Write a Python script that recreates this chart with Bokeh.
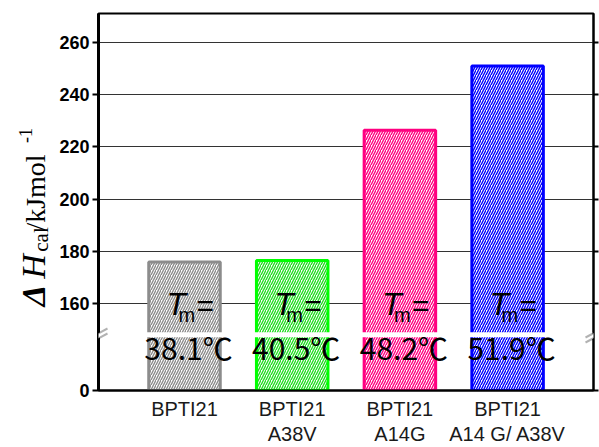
import math
from bokeh.plotting import figure
from bokeh.layouts import row
from bokeh.models import (ColumnDataSource, FixedTicker, CustomJSTickFormatter,
                          LinearAxis, Range1d, PolyAnnotation)
from bokeh.core.properties import value
from bokeh.embed import file_html
from bokeh.resources import INLINE

# ---------------- data ----------------
categories = ["BPTI21", "BPTI21\nA38V", "BPTI21\nA14G", "BPTI21\nA14 G/ A38V"]
dh_cal = [176.0, 176.6, 226.4, 250.9]          # kJ/mol
tm_values = [38.1, 40.5, 48.2, 51.9]           # deg C
y_ticks = [160, 180, 200, 220, 240, 260]
line_colors = ["#8c8c8c", "#00ff00", "#ff0080", "#0000ff"]
hatch_colors = ["#8c8c8c", "#22dd22", "#ff0080", "#0000ff"]

# ---------------- layout (broken axis) ----------------
W, H = 599, 447
TW = 56                   # width of the y-title strip
Y_ZERO = 126.9            # plotted position of value 0 (below the break)
Y_TOP = 271.0
BREAK_LO, BREAK_HI = 147.3, 149.2
X_START, X_END = 0.2015, 4.7976
PX_X, PX_Y = 107.7, 2.616
FL, FR, FT, FB = 98, 593, 13, 390   # frame edges in page pixels


def sx(px):
    return X_START + (px - FL) / PX_X


def sy(py):
    return Y_ZERO + (FB - py) / PX_Y


xs = list(range(1, len(categories) + 1))
src = ColumnDataSource(dict(
    x=xs, dh=dh_cal,
    tm=[f"{t:.1f}\u2103" for t in tm_values],
    lc=line_colors, hc=hatch_colors,
))

p = figure(width=W - TW, height=H, output_backend="svg", toolbar_location=None,
           x_range=Range1d(X_START, X_END), y_range=Range1d(Y_ZERO, Y_TOP),
           min_border_left=FL - TW, min_border_right=W - FR, min_border_top=FT,
           min_border_bottom=H - FB)
p.background_fill_color = "white"
p.border_fill_color = "white"
p.outline_line_color = "black"
p.outline_line_width = 2

# grid
p.xgrid.visible = False
p.ygrid.ticker = FixedTicker(ticks=y_ticks)
p.ygrid.grid_line_color = "#333333"
p.ygrid.grid_line_width = 1

# left axis
ya = p.yaxis[0]
ya.ticker = FixedTicker(ticks=[Y_ZERO] + y_ticks)
ya.formatter = CustomJSTickFormatter(code="return tick < 150 ? '0' : tick.toFixed(0);")
ya.major_tick_in = 0
ya.major_tick_out = 6
ya.minor_tick_in = 0
ya.minor_tick_out = 0
ya.axis_line_width = 3
ya.major_tick_line_width = 2
ya.major_label_standoff = 3
ya.major_label_text_font = "Liberation Sans"
ya.major_label_text_font_style = "bold"
ya.major_label_text_font_size = "18px"
ya.major_label_text_color = "black"

# right axis (ticks only)
ra = LinearAxis(ticker=FixedTicker(ticks=[Y_ZERO] + y_ticks),
                formatter=CustomJSTickFormatter(code="return '';"),
                major_tick_in=0, major_tick_out=5, minor_tick_in=0, minor_tick_out=0,
                axis_line_width=2, major_tick_line_width=2, major_label_standoff=0)
p.add_layout(ra, "right")

# bottom axis with category labels
xa = p.xaxis[0]
xa.ticker = FixedTicker(ticks=xs)
xa.major_label_overrides = {x: c for x, c in zip(xs, categories)}
xa.axis_line_width = 2
xa.major_tick_out = 0
xa.major_tick_in = 0
xa.minor_tick_out = 0
xa.minor_tick_in = 0
xa.major_label_standoff = 7
xa.major_label_text_font = "Liberation Sans"
xa.major_label_text_font_size = "20px"
xa.major_label_text_color = "#1a1a1a"
xa.major_label_text_line_height = 1.15

# bars
p.vbar(x="x", width=0.664, bottom=Y_ZERO, top="dh", source=src,
       fill_color="white", line_color="lc", line_width=3,
       hatch_pattern="/", hatch_color="hc", hatch_scale=5, hatch_weight=1.4)

# break band
p.quad(left=X_START, right=X_END, bottom=BREAK_LO, top=BREAK_HI,
       fill_color="white", line_color=None)

# Tm = labels (positions given as text middles)
p.text(x="x", y=value(sy(304)), text=value("T"), source=src, x_offset=-18,
       text_font=value("Liberation Sans"), text_font_style="italic",
       text_font_size="32px", text_color="black", text_align="left",
       text_baseline="middle")
p.text(x="x", y=value(sy(315)), text=value("m"), source=src, x_offset=-6,
       text_font=value("Liberation Sans"), text_font_size="20px",
       text_color="black", text_align="left", text_baseline="middle")
p.text(x="x", y=value(sy(305)), text=value("="), source=src, x_offset=12,
       text_font=value("Liberation Sans"), text_font_size="30px",
       text_color="black", text_align="left", text_baseline="middle")
p.text(x="x", y=value(sy(347)), text="tm", source=src, x_offset=4,
       text_font=value("Noto Sans CJK JP"), text_font_size="30px",
       text_color="black", text_align="center", text_baseline="middle")

# axis-break marks
def brk(cx_page):
    cy = 335
    a = [(cx_page - 8, cy + 2), (cx_page + 9, cy - 7)]
    b = [(cx_page - 8, cy + 7), (cx_page + 9, cy - 2)]
    fill = a + b[::-1]
    p.add_layout(PolyAnnotation(xs=[sx(u) for u, _ in fill], ys=[sy(v) for _, v in fill],
                                fill_color="white", fill_alpha=1, line_color=None))
    for seg in (a, b):
        p.add_layout(PolyAnnotation(xs=[sx(u) for u, _ in seg], ys=[sy(v) for _, v in seg],
                                    fill_alpha=0, line_color="black", line_width=2))


brk(FL)
brk(FR)

# ---------------- y-axis title strip ----------------
# (its frame is aligned with the main frame by the row layout)
t = figure(width=TW, height=H, output_backend="svg", toolbar_location=None,
           x_range=Range1d(0, TW), y_range=Range1d(H - FB, H - FT),
           x_axis_location=None, y_axis_location=None,
           min_border_left=0, min_border_right=0, min_border_top=FT,
           min_border_bottom=H - FB)
t.outline_line_color = None
t.xgrid.visible = False
t.ygrid.visible = False
t.background_fill_color = "white"
t.border_fill_color = "white"

title_text = ["\u0394", "H", "cal", "/kJmol", "-1"]
title_cy = [295, 266, 239, 192, 135]          # page y of each piece's centre
title_cx = [33, 33, 40, 35, 25]               # page x of each piece's centre
title_size = [34, 34, 21, 28, 18]
title_style = ["bold italic", "italic", "normal", "normal", "normal"]
tsrc = ColumnDataSource(dict(
    x=title_cx,
    y=[H - v for v in title_cy],
    text=title_text,
    size=[f"{s}px" for s in title_size],
    style=title_style,
))
t.text(x="x", y="y", text="text", source=tsrc, angle=math.pi / 2,
       text_font=value("Liberation Serif"), text_font_size="size",
       text_font_style="style", text_color="black", text_align="center",
       text_baseline="middle")

layout = row(t, p)
open("out.html", "w").write(file_html(layout, INLINE))
